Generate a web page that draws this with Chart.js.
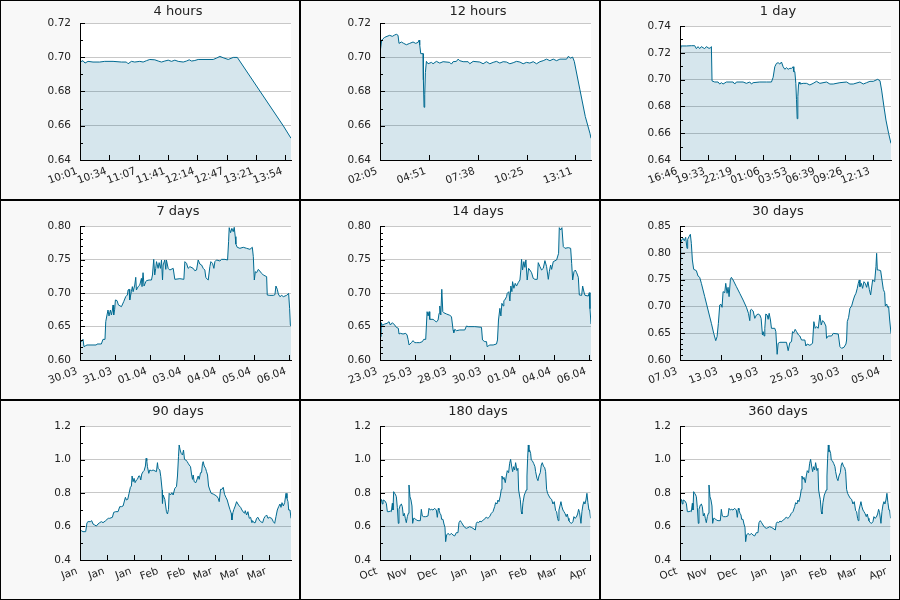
<!DOCTYPE html>
<html>
<head>
<meta charset="utf-8">
<script src="https://cdn.jsdelivr.net/npm/chart.js@4.4.1/dist/chart.umd.min.js"></script>
<style>
  body { margin: 0; background: #fff; }
  #grid { display: grid; grid-template-columns: repeat(3, 300px); grid-template-rows: repeat(3, 200px); width: 900px; height: 600px; }
  .cell { border: 1px solid #000; box-sizing: border-box; background: #f8f8f8; }
  canvas { display: block; }
</style>
</head>
<body>
<div id="grid"></div>
<script>
// ---- 4 hours (x = minutes since 10:01)
const h4Min = [0,3.4,5.7,9.1,14.8,22.4,28.1,37.6,47.1,52.8,
  54.7,58.5,62.3,68.0,71.8,75.6,79.4,85.1,88.9,92.7,
  96.5,100.3,104.1,107.9,111.7,117.4,121.2,124.2,126.9,130.6,
  134.4,151.5,155.3,159.1,162.9,168.6,174.3,178.9,231.3,240];
const h4Rate = [.6972,.6980,.6966,.6976,.6972,.6972,.6976,.6976,.6972,.6972,
  .6962,.6976,.6972,.6976,.6972,.6980,.6987,.6985,.6978,.6972,
  .6978,.6983,.6976,.6983,.6976,.6972,.6978,.6985,.6978,.6981,
  .6987,.6987,.6995,.7005,.6997,.6987,.6999,.6999,.6599,.6527];
const h4TickPos = [0,33.3,66.7,100,133.3,166.7,200,233.3];
const h4TickLabels = ['10:01','10:34','11:07','11:41','12:14','12:47','13:21','13:54'];

// ---- 12 hours (x = minutes since 02:05)
const h12Min = [0,5.7,10.3,15.9,23.9,33.0,42.1,50.1,55.8,61.5,
  64.9,72.9,80.9,90.0,101.4,112.8,121.9,129.8,133.3,135.5,
  139.0,146.9,148.1,150.3,152.6,154.9,158.3,164.0,175.4,181.1,
  192.5,203.9,215.3,238.0,243.7,249.4,260.8,266.5,272.2,283.6,
  300.7,306.4,317.8,340.5,351.9,363.3,374.7,386.1,397.5,408.9,
  420.3,431.7,443.1,454.4,465.8,477.2,488.6,500.0,511.4,522.8,
  534.2,545.6,556.9,568.3,579.7,591.1,602.5,613.9,636.7,642.4,
  650.3,657.2,662.9,682.2,700.5,716.4,720];
const h12Rate = [.7025,.7099,.7108,.7116,.7122,.7128,.7122,.7130,.7134,.7128,
  .7081,.7089,.7081,.7073,.7081,.7089,.7081,.7087,.7100,.7073,
  .7021,.7021,.6868,.6708,.6781,.6911,.6976,.6962,.6970,.6962,
  .6976,.6966,.6974,.6970,.6960,.6974,.6976,.6989,.6980,.6974,
  .6974,.6962,.6976,.6972,.6962,.6974,.6962,.6970,.6976,.6966,
  .6974,.6972,.6962,.6968,.6976,.6972,.6962,.6970,.6966,.6974,
  .6962,.6974,.6980,.6989,.6980,.6989,.6980,.6989,.6989,.7005,
  .6995,.7001,.6976,.6810,.6654,.6556,.6527];
const h12TickPos = [0,166,333,500,666];
const h12TickLabels = ['02:05','04:51','07:38','10:25','13:11'];

// ---- 1 day (x = minutes since 16:46)
const d1Min = [0,6.1,18.2,38.4,68.7,89.0,99.1,109.2,119.3,129.4,
  139.5,149.6,159.7,175.9,186.0,190.1,194.1,210.3,230.5,240.6,
  250.7,260.8,281.0,321.5,331.6,341.7,382.1,402.3,422.6,432.7,
  442.8,483.2,523.7,554.0,564.1,574.2,584.3,594.4,604.5,614.6,
  624.8,634.9,645.0,655.1,665.2,675.3,685.4,689.4,695.5,701.6,
  705.6,709.7,713.7,717.7,721.8,725.8,746.1,766.3,786.5,806.7,
  826.9,847.2,887.6,907.8,928.0,968.5,1008.9,1029.1,1049.3,1089.8,
  1110.0,1130.2,1150.4,1170.6,1196.9,1211.1,1221.2,1235.3,1247.5,1263.6,
  1277.8];
const d1Rate = [.7196,.7251,.7251,.7251,.7253,.7253,.7231,.7246,.7231,.7246,
  .7238,.7231,.7246,.7233,.7238,.7246,.6990,.6982,.6982,.6967,
  .6977,.6967,.6982,.6982,.6967,.6982,.6982,.6972,.6982,.6967,
  .6977,.6982,.6982,.6982,.7017,.7096,.7121,.7126,.7116,.7131,
  .7096,.7077,.7089,.7077,.7084,.7084,.7096,.7059,.7059,.6972,
  .6853,.6708,.6873,.6960,.6982,.6967,.6972,.6972,.6960,.6972,
  .6987,.6972,.6982,.6967,.6967,.6977,.6982,.6967,.6967,.6982,
  .6967,.6977,.6987,.6987,.7002,.6992,.6922,.6798,.6698,.6599,
  .6524];
const d1TickPos = [0,167,333,500,667,833,1000,1167];
const d1TickLabels = ['16:46','19:33','22:19','01:06','03:53','06:39','09:26','12:13'];

// ---- 7 days (x = hours)
const d7Hour = [0,1.06,2.39,3.19,4.52,5.58,13.0,13.6,17.0,18.3,
  19.9,20.5,21.5,22.3,23.1,24.2,25.0,25.8,26.3,26.8,
  27.6,28.2,29.5,30.6,33.0,34.8,36.4,37.7,38.3,39.1,
  39.6,40.9,41.7,42.3,43.6,44.4,44.9,46.3,47.6,48.9,
  49.4,50.2,51.0,52.4,52.9,55.0,56.9,57.7,58.7,59.5,
  60.3,60.9,62.2,63.0,64.1,64.9,65.7,66.2,67.5,68.3,
  68.8,70.2,71.5,74.2,75.5,79.5,82.7,83.5,84.8,86.1,
  87.5,90.1,91.4,92.8,94.1,95.4,96.8,98.1,99.4,100.2,
  102.1,103.4,104.2,105.5,106.6,107.4,108.7,111.4,112.7,115.4,
  117.5,118.3,118.8,119.9,120.9,122.0,122.8,123.6,124.1,125.2,
  127.3,130.0,132.6,135.3,137.2,138.0,138.8,139.6,140.6,142.0,
  144.6,145.9,148.6,149.1,151.2,153.9,155.2,156.0,157.1,157.9,
  159.2,160.6,161.9,164.5,166.1,166.9,167.5,168];
const d7Rate = [.6299,.6274,.6308,.6199,.6214,.6224,.6224,.6239,.6239,.6308,
  .6308,.6572,.6672,.6746,.6657,.6746,.6672,.6746,.6821,.6672,
  .6756,.6896,.6886,.6821,.6796,.6871,.6945,.6970,.7045,.7055,
  .6896,.7020,.7095,.7020,.7119,.7234,.7045,.7095,.7119,.7219,
  .7095,.7303,.7104,.7169,.7184,.7194,.7194,.7269,.7502,.7269,
  .7368,.7468,.7368,.7453,.7368,.7493,.7194,.7418,.7493,.7353,
  .7493,.7368,.7343,.7368,.7204,.7214,.7204,.7468,.7443,.7368,
  .7393,.7368,.7333,.7343,.7493,.7433,.7418,.7368,.7343,.7229,
  .7194,.7393,.7468,.7443,.7368,.7468,.7493,.7478,.7502,.7502,
  .7493,.7766,.7975,.7900,.7965,.7915,.7980,.7841,.7731,.7682,
  .7667,.7682,.7667,.7652,.7682,.7542,.7194,.7318,.7303,.7353,
  .7294,.7269,.7244,.6970,.6965,.6965,.6975,.7104,.7055,.6985,
  .6945,.6965,.6945,.6965,.6995,.6771,.6522,.6507];
const d7TickPos = [0,27.7,55.4,83.1,110.8,138.5,166.2];
const d7TickLabels = ['30.03','31.03','01.04','03.04','04.04','05.04','06.04'];

// ---- 14 days (x = hours)
const d14Hour = [0,1.1,2.1,3.2,4.8,7.4,11.2,14.4,16.5,19.7,
  23.4,26.0,29.2,30.3,32.4,36.7,41.0,43.1,44.7,46.3,
  50.0,52.6,55.3,57.9,63.3,67.5,69.6,72.8,75.0,76.6,
  78.2,79.2,84.5,87.2,89.8,92.5,94.1,95.2,96.8,98.4,
  100.0,101.5,105.8,111.1,113.8,116.4,117.5,119.1,121.7,127.1,
  135.0,137.7,140.4,151.0,161.6,163.2,166.9,169.6,170.6,172.2,
  174.9,180.2,185.5,187.1,188.7,190.9,192.5,194.1,196.2,197.2,
  198.8,201.5,202.6,205.2,206.8,208.4,210.0,211.1,213.2,215.3,
  217.4,220.1,222.8,224.3,225.4,227.0,229.1,230.7,232.3,234.4,
  236.6,238.7,241.4,244.0,246.7,250.4,252.0,254.7,257.3,260.0,
  262.6,265.3,268.0,269.6,271.7,273.3,275.9,281.2,284.4,285.5,
  287.6,289.7,291.9,294.5,299.8,303.6,305.2,306.8,308.9,311.0,
  313.1,315.8,317.4,321.1,322.7,324.8,326.4,331.7,333.3,334.4,
  336];
const d14Rate = [.6547,.6348,.6557,.6522,.6522,.6537,.6547,.6572,.6522,.6557,
  .6522,.6488,.6473,.6388,.6398,.6388,.6398,.6373,.6308,.6224,
  .6259,.6289,.6259,.6259,.6259,.6274,.6308,.6308,.6721,.6657,
  .6721,.6607,.6607,.6587,.6567,.6597,.6697,.6806,.6672,.7055,
  .6721,.6706,.6687,.6667,.6647,.6448,.6408,.6458,.6438,.6448,
  .6448,.6507,.6498,.6498,.6488,.6299,.6274,.6274,.6199,.6209,
  .6224,.6224,.6239,.6299,.6597,.6771,.6657,.6846,.6806,.6886,
  .6896,.6945,.6995,.7020,.6881,.7104,.7020,.7169,.7070,.7144,
  .7104,.7154,.7194,.7343,.7502,.7343,.7468,.7383,.7493,.7194,
  .7368,.7343,.7303,.7219,.7204,.7204,.7453,.7393,.7343,.7368,
  .7483,.7393,.7204,.7318,.7418,.7353,.7468,.7493,.7592,.7975,
  .7940,.7975,.7692,.7667,.7677,.7667,.7443,.7194,.7318,.7343,
  .7303,.7234,.6970,.6965,.7104,.7015,.6965,.6955,.7005,.6766,
  .6537];
const d14TickPos = [0,55.4,110.8,166.2,221.6,277,332.4];
const d14TickLabels = ['23.03','25.03','28.03','30.03','01.04','04.04','06.04'];

// ---- 30 days (x = hours)
const d30Hour = [0,2.3,5.7,10.3,14.8,19.4,23.9,26.2,30.8,35.3,
  38.7,42.2,46.7,55.8,61.5,67.2,72.9,84.3,95.7,107.1,
  115.1,121.9,126.5,131.0,135.6,140.1,143.5,147.0,152.7,156.1,
  160.6,164.0,167.5,172.0,175.4,181.1,192.5,203.9,215.3,226.7,
  233.5,238.1,240.4,243.8,249.5,255.2,260.9,266.6,272.3,276.8,
  281.4,283.7,287.1,289.4,292.8,297.3,300.8,304.2,308.7,312.1,
  323.5,327.0,331.5,334.9,340.6,363.4,369.1,374.8,380.5,383.9,
  388.5,393.0,397.6,404.4,409.0,414.7,426.1,429.5,434.0,443.2,
  452.3,456.8,461.4,465.9,471.6,477.3,481.9,486.4,491.0,497.8,
  500.1,505.8,517.2,522.9,540.0,545.7,551.4,559.4,566.2,568.5,
  570.8,575.3,579.9,585.6,591.3,595.8,600.4,604.9,608.4,611.8,
  614.1,618.6,623.1,627.7,632.3,636.8,641.4,645.9,650.5,657.3,
  664.2,668.7,671.0,673.3,677.8,684.7,689.2,693.8,698.3,700.6,
  705.2,708.6,712.0,715.5,720];
const d30Rate = [.7835,.8189,.8239,.8270,.8226,.8289,.8083,.8251,.8301,.8345,
  .8177,.7866,.7692,.7667,.7567,.7542,.7430,.7182,.6933,.6684,
  .6497,.6361,.6435,.6684,.7026,.7039,.6983,.7275,.7256,.7430,
  .7244,.7356,.7182,.7505,.7542,.7493,.7368,.7244,.7119,.6983,
  .6871,.6734,.6933,.6945,.6914,.6777,.6840,.6858,.6840,.6777,
  .6466,.6529,.6448,.6591,.6858,.6840,.6759,.6871,.6746,.6591,
  .6591,.6529,.6106,.6311,.6330,.6330,.6174,.6323,.6342,.6529,
  .6510,.6572,.6529,.6466,.6448,.6373,.6373,.6261,.6298,.6274,
  .6311,.6715,.6591,.6622,.6591,.6840,.6653,.6734,.6715,.6634,
  .6404,.6448,.6448,.6497,.6485,.6249,.6218,.6236,.6298,.6373,
  .6715,.6796,.6964,.7007,.7119,.7194,.7244,.7337,.7430,.7493,
  .7368,.7430,.7337,.7461,.7430,.7356,.7461,.7318,.7213,.7493,
  .7461,.7741,.7990,.7679,.7679,.7667,.7493,.7318,.7256,.7007,
  .7045,.6983,.6995,.6746,.6497];
const d30TickPos = [0,138.5,277,415.5,554,692.5];
const d30TickLabels = ['07.03','13.03','19.03','25.03','30.03','05.04'];

// ---- 90 days (x = days)
const d90Day = [0,0.57,1.28,2.42,2.99,3.42,4.41,4.98,5.55,6.27,
  6.98,7.69,8.40,9.11,9.83,10.97,11.54,12.10,12.67,13.81,
  14.38,15.24,16.23,16.95,17.66,18.37,19.37,19.80,20.36,20.93,
  21.50,21.93,22.22,22.64,23.07,23.50,24.07,24.49,25.06,25.49,
  25.92,26.35,26.92,27.34,27.91,28.20,28.48,28.77,29.34,29.76,
  30.48,31.19,32.61,33.04,33.32,34.04,34.46,35.03,35.18,35.46,
  36.17,36.88,37.31,37.74,38.02,38.59,39.16,39.73,40.44,41.16,
  41.58,42.01,42.30,42.72,43.15,43.72,44.15,44.57,45.14,45.71,
  46.14,46.57,47.14,47.56,47.99,48.28,48.70,49.42,49.84,50.41,
  50.84,51.41,51.84,52.26,52.55,52.98,53.55,53.97,54.40,54.83,
  55.40,55.97,56.82,58.25,58.96,59.38,59.95,60.52,61.09,61.66,
  62.23,62.80,63.37,63.94,64.51,64.80,65.22,65.65,66.22,66.79,
  67.36,67.93,68.50,69.07,69.64,70.21,70.49,71.06,71.63,72.20,
  72.77,73.34,73.63,74.19,74.76,75.33,75.90,76.47,77.04,77.90,
  78.47,78.90,79.61,80.18,80.75,81.74,82.46,83.03,83.59,84.16,
  84.73,85.30,85.73,86.16,86.73,87.30,87.87,88.29,88.72,89.01,
  89.58,90];
const d90Rate = [.5791,.5751,.5692,.5692,.6229,.6289,.6289,.6348,.6149,.6090,
  .6030,.6149,.6229,.6289,.6229,.6348,.6428,.6488,.6488,.6547,
  .6846,.6886,.6886,.7184,.7184,.7224,.7741,.7582,.7622,.7980,
  .8338,.8418,.9015,.8677,.8876,.8617,.8776,.8816,.9015,.9015,
  .8776,.9134,.9274,.9333,.9612,1.0070,.9930,.9572,.9174,.9373,
  .9333,.9373,.9274,.9811,.9473,.9373,.8975,.8179,.7383,.7881,
  .7622,.6886,.6746,.7025,.7980,.7881,.8020,.7881,.8279,.8378,
  .9015,1.0169,1.0866,1.0567,1.0368,1.0269,1.0567,1.0010,.9970,.9871,
  .9771,.9672,.9572,.9134,.8816,.9075,.8677,.8617,.8776,.9015,
  .8816,.9214,.9214,.9771,.9871,.9612,.9473,.9274,.9075,.8418,
  .8179,.7980,.7940,.7821,.7682,.7483,.8219,.8219,.8338,.7920,
  .7741,.7582,.7284,.7025,.6786,.6388,.6826,.7025,.7224,.7483,
  .7343,.7224,.7144,.6985,.6866,.6786,.6945,.6687,.6886,.6488,
  .6547,.6229,.6348,.6229,.6229,.6488,.6547,.6388,.6289,.6229,
  .6488,.6587,.6687,.6488,.6547,.6488,.6289,.6189,.6587,.6985,
  .7184,.7343,.7144,.7423,.7224,.7423,.7980,.7682,.7483,.6985,
  .6985,.6488];
const d90TickPos = [0,11.53,23.06,34.59,46.12,57.65,69.18,80.71];
const d90TickLabels = ['Jan','Jan','Jan','Feb','Feb','Mar','Mar','Mar'];

// ---- 180 / 360 days (same history, x = days)
const d180Day = [0,1.14,1.99,2.56,3.99,5.41,6.27,7.69,8.83,9.68,
  10.54,11.11,11.68,12.53,13.39,13.96,14.81,15.66,16.23,17.37,
  18.23,19.08,19.94,20.79,21.65,22.50,23.36,24.21,24.78,25.63,
  26.49,27.34,27.91,28.77,29.62,31.05,32.47,34.46,35.32,36.17,
  37.31,39.02,41.01,41.87,43.01,43.86,45.29,46.71,48.13,48.99,
  49.84,50.41,51.27,52.12,52.69,53.83,54.68,55.54,56.11,56.96,
  58.10,59.53,60.95,62.38,63.80,65.22,66.65,67.50,68.64,69.78,
  70.92,72.34,73.77,75.19,76.62,78.04,79.46,81.46,82.31,83.17,
  84.31,85.45,86.58,87.44,88.58,89.72,90.86,92.28,93.71,95.13,
  96.55,97.98,98.83,99.97,100.83,101.68,102.82,103.67,104.24,105.10,
  105.95,107.09,107.95,108.80,109.94,110.80,111.65,112.50,113.36,114.21,
  115.07,115.92,117.06,117.92,118.49,119.34,119.91,120.76,121.33,122.19,
  123.33,124.18,125.04,125.61,126.18,126.75,127.31,127.88,128.74,129.31,
  130.16,131.30,132.44,133.01,134.15,135.00,135.86,137.00,137.85,138.71,
  139.85,140.70,141.56,142.41,143.26,144.40,145.54,146.68,147.82,148.96,
  150.10,150.95,151.81,152.38,152.95,153.80,154.66,155.51,156.37,157.22,
  158.07,159.21,160.07,160.92,161.49,162.63,163.77,164.91,165.76,166.62,
  167.76,168.90,169.75,170.61,171.75,172.60,173.46,174.31,175.16,176.02,
  176.87,177.73,178.58,179.15,180];
const d180Rate = [.7682,.7622,.7343,.7582,.7542,.7383,.6886,.6886,.6925,.6886,
  .7383,.6985,.8080,.7980,.7881,.7781,.7144,.6189,.7025,.7284,
  .7343,.7184,.6627,.6786,.6488,.6229,.6587,.6786,.8478,.7781,
  .7582,.7224,.6189,.6488,.6488,.6388,.6348,.6348,.7025,.6627,
  .6587,.6587,.6627,.7085,.6985,.7025,.6985,.7085,.6985,.6547,
  .7085,.6985,.6786,.6687,.6428,.6428,.6149,.5950,.5095,.5493,
  .5592,.5493,.5592,.5493,.5433,.5632,.5632,.6229,.6348,.6229,
  .6090,.5950,.5891,.5930,.5990,.5950,.5891,.5791,.6189,.6269,
  .6229,.6328,.6269,.6348,.6388,.6488,.6547,.6488,.6587,.6786,
  .6886,.7184,.7423,.7343,.7582,.7483,.7821,.8219,.9015,.8816,
  .8935,.8617,.9015,.9333,.9214,.9771,1.0010,.9612,.9274,.9572,
  .9373,.9811,.9333,.9473,.8179,.7821,.7622,.6886,.6746,.7423,
  .7881,.8020,.8179,.9015,1.0070,1.0866,1.0468,1.0567,1.0368,.9970,
  .9930,.9771,.9572,.9274,.8876,.8736,.9015,.9214,.9672,.9811,
  .9572,.9532,.9274,.8219,.7980,.7821,.7682,.7622,.7343,.7483,
  .6945,.6886,.6488,.6348,.6985,.7224,.7483,.7184,.6985,.6886,
  .6786,.6587,.6746,.6488,.6348,.6229,.6189,.6289,.6587,.6488,
  .6547,.6746,.7025,.6826,.6189,.6886,.7284,.7483,.7343,.7582,
  .7980,.7423,.6985,.6985,.6488];
const d180TickPos = [0,25.6,51.2,76.8,102.4,128,153.6,179.2];
const d180TickLabels = ['Oct','Nov','Dec','Jan','Jan','Feb','Mar','Apr'];

const panelTitles = ['4 hours','12 hours','1 day','7 days','14 days','30 days','90 days','180 days','360 days'];

const panels = [
  {x: h4Min,   y: h4Rate,   xMax: 240,  ticks: h4TickPos,   labels: h4TickLabels,   yMin: .64, yMax: .72, step: .02, minor: 2, dec: 2, top: 22},
  {x: h12Min,  y: h12Rate,  xMax: 720,  ticks: h12TickPos,  labels: h12TickLabels,  yMin: .64, yMax: .72, step: .02, minor: 2, dec: 2, top: 22},
  {x: d1Min,   y: d1Rate,   xMax: 1278, ticks: d1TickPos,   labels: d1TickLabels,   yMin: .64, yMax: .74, step: .02, minor: 2, dec: 2, top: 25},
  {x: d7Hour,  y: d7Rate,   xMax: 168,  ticks: d7TickPos,   labels: d7TickLabels,   yMin: .60, yMax: .80, step: .05, minor: 5, dec: 2, top: 25},
  {x: d14Hour, y: d14Rate,  xMax: 336,  ticks: d14TickPos,  labels: d14TickLabels,  yMin: .60, yMax: .80, step: .05, minor: 5, dec: 2, top: 25},
  {x: d30Hour, y: d30Rate,  xMax: 720,  ticks: d30TickPos,  labels: d30TickLabels,  yMin: .60, yMax: .85, step: .05, minor: 5, dec: 2, top: 25},
  {x: d90Day,  y: d90Rate,  xMax: 90,   ticks: d90TickPos,  labels: d90TickLabels,  yMin: .4,  yMax: 1.2, step: .2,  minor: 2, dec: 1, top: 25},
  {x: d180Day, y: d180Rate, xMax: 180,  ticks: d180TickPos, labels: d180TickLabels, yMin: .4,  yMax: 1.2, step: .2,  minor: 2, dec: 1, top: 25},
  {x: d180Day, y: d180Rate, xMax: 180,  ticks: d180TickPos, labels: d180TickLabels, yMin: .4,  yMax: 1.2, step: .2,  minor: 2, dec: 1, top: 25}
];

Chart.defaults.font.family = "'DejaVu Sans', sans-serif";
Chart.defaults.font.size = 10.5;
Chart.defaults.color = '#222';

// white plot area, inward tick marks and the panel title
const panelDecor = {
  id: 'panelDecor',
  beforeDraw(chart) {
    const {ctx, chartArea: a} = chart;
    ctx.save();
    ctx.fillStyle = '#fff';
    ctx.fillRect(a.left, a.top, a.right - a.left, a.bottom - a.top);
    ctx.restore();
  },
  afterDraw(chart, args, opts) {
    const {ctx, chartArea: a, scales: {x, y}} = chart;
    const p = opts.panel;
    ctx.save();
    ctx.strokeStyle = '#000';
    ctx.lineWidth = 1;
    ctx.beginPath();
    const n = Math.round((p.yMax - p.yMin) / p.step * p.minor);
    for (let i = 0; i <= n; i++) {
      const py = Math.round(y.getPixelForValue(p.yMin + i * p.step / p.minor)) + 0.5;
      const len = i % p.minor === 0 ? 5 : 3;
      ctx.moveTo(a.left, py);
      ctx.lineTo(a.left + len, py);
    }
    p.ticks.forEach(v => {
      const px = Math.round(x.getPixelForValue(v)) + 0.5;
      ctx.moveTo(px, a.bottom);
      ctx.lineTo(px, a.bottom - 5);
    });
    ctx.stroke();
    ctx.fillStyle = '#222';
    ctx.font = "13px 'DejaVu Sans', sans-serif";
    ctx.textAlign = 'center';
    ctx.textBaseline = 'middle';
    ctx.fillText(opts.title, 177, 11);
    ctx.restore();
  }
};

const grid = document.getElementById('grid');
panels.forEach((p, k) => {
  const cell = document.createElement('div');
  cell.className = 'cell';
  const canvas = document.createElement('canvas');
  canvas.width = 298;
  canvas.height = 198;
  cell.appendChild(canvas);
  grid.appendChild(cell);

  new Chart(canvas, {
    type: 'line',
    data: {
      datasets: [{
        data: p.x.map((t, i) => ({x: t, y: p.y[i]})),
        borderColor: '#006a91',
        borderWidth: 1,
        backgroundColor: 'rgba(0,102,145,0.16)',
        fill: 'start',
        pointRadius: 0,
        tension: 0
      }]
    },
    options: {
      responsive: false,
      animation: false,
      events: [],
      layout: {padding: {top: p.top, right: 8, left: 0, bottom: 0}},
      plugins: {
        legend: {display: false},
        tooltip: {enabled: false},
        panelDecor: {title: panelTitles[k], panel: p}
      },
      scales: {
        x: {
          type: 'linear',
          min: 0,
          max: p.xMax,
          afterBuildTicks: s => { s.ticks = p.ticks.map(v => ({value: v})); },
          afterFit: s => { s.height = 39; },
          grid: {drawOnChartArea: false, drawTicks: false},
          border: {color: '#000', z: 1},
          ticks: {autoSkip: false, minRotation: 20, maxRotation: 20, padding: 5, labelOffset: -3,
                  callback: (v, i) => p.labels[i]}
        },
        y: {
          min: p.yMin,
          max: p.yMax,
          afterFit: s => { s.width = 79; },
          grid: {color: '#c8c8c8', drawTicks: false},
          border: {color: '#000', z: 1},
          ticks: {stepSize: p.step, padding: 9, callback: v => v.toFixed(p.dec)}
        }
      }
    },
    plugins: [panelDecor]
  });
});
</script>
</body>
</html>
